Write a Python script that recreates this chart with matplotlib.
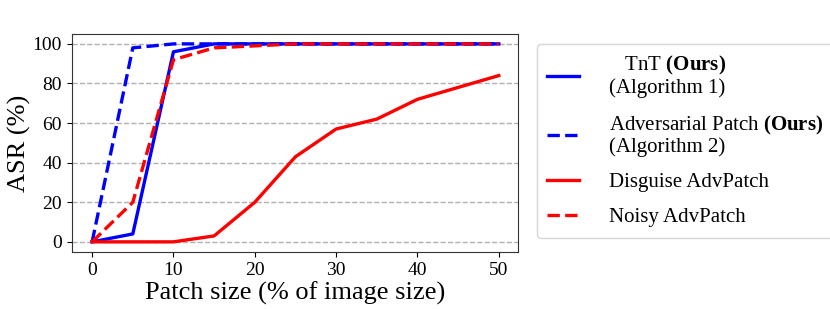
import matplotlib
matplotlib.use("Agg")
import matplotlib.pyplot as plt

plt.rcParams['font.family'] = ['Liberation Serif', 'DejaVu Serif']
plt.rcParams['mathtext.fontset'] = 'custom'
plt.rcParams['mathtext.rm'] = 'Liberation Serif'
plt.rcParams['mathtext.bf'] = 'Liberation Serif:bold'

patch_size = [0, 5, 10, 15, 20, 25, 30, 35, 40, 45, 50]
tnt = [0, 4, 96, 100, 100, 100, 100, 100, 100, 100, 100]
adv_patch = [0, 98, 100, 100, 100, 100, 100, 100, 100, 100, 100]
disguise = [0, 0, 0, 3, 20, 43, 57, 62, 72, 78, 84]
noisy = [0, 20, 92, 98, 99, 100, 100, 100, 100, 100, 100]

fig = plt.figure(figsize=(8.3, 3.09), dpi=100)
ax = fig.add_axes([0.0865, 0.184, 0.537, 0.706])

ax.plot(patch_size, tnt, color='blue', linestyle='-', lw=2.4,
        label='   TnT $\\bf{(Ours)}$\n(Algorithm 1)')
ax.plot(patch_size, adv_patch, color='blue', linestyle='--', lw=2.4,
        label='Adversarial Patch $\\bf{(Ours)}$\n(Algorithm 2)')
ax.plot(patch_size, disguise, color='red', linestyle='-', lw=2.4,
        label='Disguise AdvPatch')
ax.plot(patch_size, noisy, color='red', linestyle='--', lw=2.4,
        label='Noisy AdvPatch')

ax.set_xlim(-2.5, 52.3)
ax.set_ylim(-5.2, 105)
ax.set_xticks(range(0, 51, 10))
ax.set_yticks(range(0, 101, 20))
ax.tick_params(labelsize=14)
for s in ax.spines.values():
    s.set_color('#333333')
ax.yaxis.grid(True, linestyle='--', color='#b0b0b0', lw=1)
ax.set_axisbelow(True)
ax.set_xlabel('Patch size (% of image size)', fontsize=19, labelpad=2)
ax.set_ylabel('ASR (%)', fontsize=19, labelpad=1)

leg = fig.legend(loc='center left', bbox_to_anchor=(0.647, 0.544), fontsize=15,
                 labelspacing=0.75, handlelength=1.5, handletextpad=1.45,
                 borderpad=0.5, borderaxespad=0, frameon=True)
for t in leg.get_texts():
    t.set_linespacing(1.05)

fig.savefig('out.png', dpi=100)
